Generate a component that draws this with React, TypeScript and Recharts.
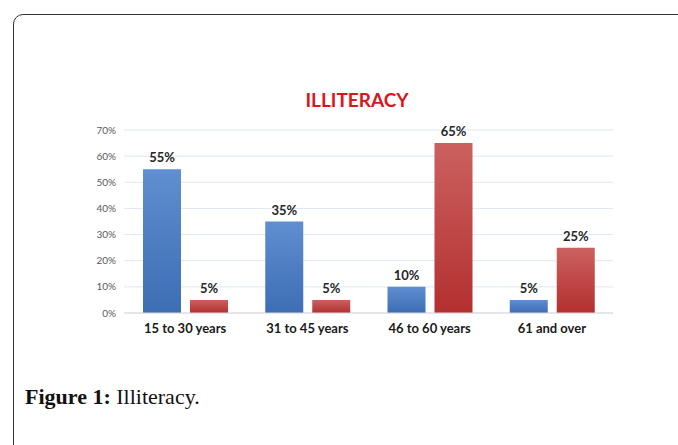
import React from 'react';
import { BarChart, Bar, XAxis, YAxis, CartesianGrid, LabelList } from 'recharts';

const categories = ['15 to 30 years', '31 to 45 years', '46 to 60 years', '61 and over'];
const blueValues = [55, 35, 10, 5];
const redValues = [5, 5, 65, 25];
const yTicks = [0, 10, 20, 30, 40, 50, 60, 70];

const data = categories.map((name, i) => ({ name, blue: blueValues[i], red: redValues[i] }));

const pct = (v: number) => `${v}%`;

const App: React.FC = () => {
  return (
    <div style={{ position: 'absolute', left: 0, top: 0, width: 678, height: 445, background: '#fff', overflow: 'hidden' }}>
      <div
        style={{
          position: 'absolute',
          left: 13,
          top: 14,
          width: 720,
          height: 500,
          border: '1.5px solid #333',
          borderRadius: 10,
        }}
      />
      <div
        style={{
          position: 'absolute',
          left: 0,
          width: 714,
          top: 88,
          textAlign: 'center',
          color: '#d9161c',
          fontFamily: 'Lato, sans-serif',
          fontWeight: 700,
          fontSize: 19,
        }}
      >
        ILLITERACY
      </div>
      <div style={{ position: 'absolute', left: 0, top: 0 }}>
        <BarChart
          width={678}
          height={445}
          data={data}
          margin={{ top: 130, right: 65, left: 84, bottom: 102 }}
          barSize={38}
          barGap={9}
        >
          <defs>
            <linearGradient id="blueGrad" x1="0" y1="0" x2="0" y2="1">
              <stop offset="0%" stopColor="#5f8fd0" />
              <stop offset="100%" stopColor="#3d6db3" />
            </linearGradient>
            <linearGradient id="redGrad" x1="0" y1="0" x2="0" y2="1">
              <stop offset="0%" stopColor="#cb615f" />
              <stop offset="100%" stopColor="#b3302f" />
            </linearGradient>
          </defs>
          <CartesianGrid vertical={false} stroke="#dfe8f1" />
          <XAxis
            dataKey="name"
            tickLine={false}
            axisLine={{ stroke: '#d9d9d9' }}
            tickMargin={5}
            tick={{ fill: '#1a1a1a', fontSize: 13, fontWeight: 700, fontFamily: 'Lato, sans-serif' }}
            height={30}
          />
          <YAxis
            width={40}
            domain={[0, 70]}
            ticks={yTicks}
            tickFormatter={pct}
            tickLine={false}
            axisLine={false}
            tick={{ fill: '#595959', fontSize: 10, fontFamily: 'Lato, sans-serif' }}
          />
          <Bar dataKey="blue" fill="url(#blueGrad)" isAnimationActive={false}>
            <LabelList
              dataKey="blue"
              position="top"
              offset={7}
              formatter={pct}
              style={{ fill: '#262626', fontSize: 13, fontWeight: 700, fontFamily: 'Lato, sans-serif' }}
            />
          </Bar>
          <Bar dataKey="red" fill="url(#redGrad)" isAnimationActive={false}>
            <LabelList
              dataKey="red"
              position="top"
              offset={7}
              formatter={pct}
              style={{ fill: '#262626', fontSize: 13, fontWeight: 700, fontFamily: 'Lato, sans-serif' }}
            />
          </Bar>
        </BarChart>
      </div>
      <div
        style={{
          position: 'absolute',
          left: 25,
          top: 384,
          fontFamily: '"Liberation Serif", serif',
          fontSize: 22,
          color: '#111',
        }}
      >
        <b>Figure 1:</b> Illiteracy.
      </div>
    </div>
  );
};

export default App;
